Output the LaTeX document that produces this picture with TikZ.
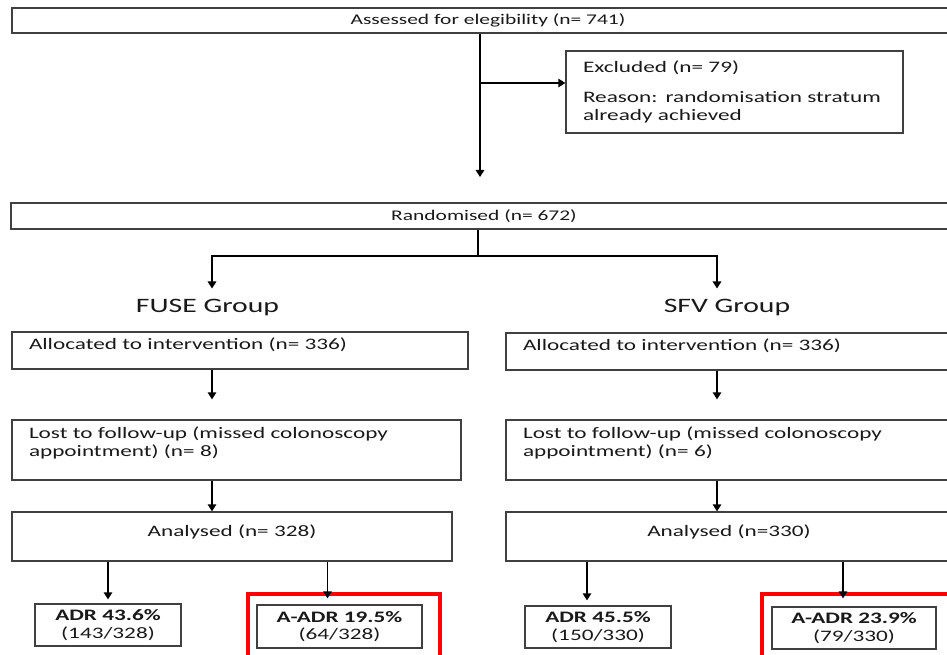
\documentclass[tikz,border=0pt]{standalone}
\usepackage{fontspec}
\setmainfont{Carlito}[FakeStretch=1.45]
\usetikzlibrary{arrows.meta, positioning}

\begin{document}
\begin{tikzpicture}[
    x=1pt, y=-1pt,
    box/.style={draw=black!75, line width=1.3pt, rectangle, inner sep=0pt, align=center, text=black!90, font=\fontsize{16}{18}\selectfont},
    smallbox/.style={box, font=\fontsize{14.8}{18}\selectfont},
    leftbox/.style={box, align=left, inner xsep=17pt},
    result/.style={box, font=\fontsize{16}{17.5}\selectfont},
    group/.style={inner xsep=0pt, inner ysep=10pt, text=black!90, font=\fontsize{20.5}{24}\selectfont},
    marker/.style={draw=red, line width=4pt, rectangle, inner sep=0pt},
    arrow/.style={-{Triangle[length=7pt, width=8.5pt]}, line width=1.5pt},
    line/.style={line width=1.5pt},
]
\useasboundingbox (0,0) rectangle (947,655);

% Enrolment
\node[smallbox, minimum width=952pt, minimum height=25pt] (assess) at (488, 20.5) {Assessed for elegibility (n= 741)};
\node[leftbox, text width=303pt, minimum height=82pt] (excl) at (734.5, 92) {Excluded (n= 79)\\[12pt]Reason: randomisation stratum\\already achieved};
\coordinate (split) at (480, 83);
\coordinate (gap) at (480, 177);

% Randomisation
\node[smallbox, minimum width=946pt, minimum height=26pt] (rand) at (484, 216) {Randomised (n= 672)};
\coordinate (fork) at (478, 256);
\coordinate (colA) at (212, 0);
\coordinate (colB) at (717, 0);

% Groups
\node[group] (fuse) at (207.5, 307) {FUSE Group};
\node[group] (sfv) at (727, 307) {SFV Group};

% FUSE arm
\node[leftbox, text width=422pt, minimum height=37pt, text depth=13pt] (alloc1) at (240, 350.5) {Allocated to intervention (n= 336)};
\node[leftbox, text width=415pt, minimum height=60pt, text depth=34pt] (lost1) at (236.5, 450) {Lost to follow-up (missed colonoscopy\\appointment) (n= 8)};
\node[box, minimum width=440pt, minimum height=49pt, text depth=11pt] (ana1) at (232, 536.5) {Analysed (n= 328)};

% SFV arm
\node[leftbox, text width=420pt, minimum height=37pt, text depth=13pt] (alloc2) at (733, 351.5) {Allocated to intervention (n= 336)};
\node[leftbox, text width=420pt, minimum height=60pt, text depth=34pt] (lost2) at (733, 450) {Lost to follow-up (missed colonoscopy\\appointment) (n= 6)};
\node[box, minimum width=446pt, minimum height=49pt, text depth=11pt] (ana2) at (729, 536.5) {Analysed (n=330)};

% Results
\node[result, minimum width=146pt, minimum height=42pt] (adr1) at (108, 625) {\textbf{ADR 43.6\%}\\(143/328)};
\node[result, minimum width=165pt, minimum height=43pt] (aadr1) at (339.5, 626.5) {\textbf{A-ADR 19.5\%}\\(64/328)};
\node[result, minimum width=146pt, minimum height=42pt] (adr2) at (598, 627) {\textbf{ADR 45.5\%}\\(150/330)};
\node[result, minimum width=164pt, minimum height=42pt] (aadr2) at (854, 628) {\textbf{A-ADR 23.9\%}\\(79/330)};
\node[marker, minimum width=192pt, minimum height=74pt] (mark1) at (344, 631) {};
\node[marker, minimum width=198pt, minimum height=74pt] (mark2) at (861, 631) {};

% Arrows
\draw[arrow] (assess.south -| split) -- (gap);
\draw[arrow] (split) -- (split -| excl.west);
\draw[line] (rand.south -| fork) -- (fork);
\draw[arrow] (fork) -| (fuse.north -| colA);
\draw[arrow] (fork) -| (sfv.north -| colB);
\draw[arrow, shorten >=20pt] (alloc1.south -| colA) -- (lost1.north -| colA);
\draw[arrow, shorten >=20pt] (alloc2.south -| colB) -- (lost2.north -| colB);
\draw[arrow] (lost1.south -| colA) -- (ana1.north -| colA);
\draw[arrow] (lost2.south -| colB) -- (ana2.north -| colB);
\draw[arrow, shorten >=4pt] (ana1.south -| adr1.north) -- (adr1.north);
\draw[arrow, shorten >=6pt] ([xshift=-12pt]aadr1.north |- ana1.south) -- ([xshift=-12pt]aadr1.north);
\draw[arrow, shorten >=5pt] ([xshift=-11pt]adr2.north |- ana2.south) -- ([xshift=-11pt]adr2.north);
\draw[arrow, shorten >=8pt] ([xshift=-11pt]aadr2.north |- ana2.south) -- ([xshift=-11pt]aadr2.north);

\end{tikzpicture}
\end{document}
